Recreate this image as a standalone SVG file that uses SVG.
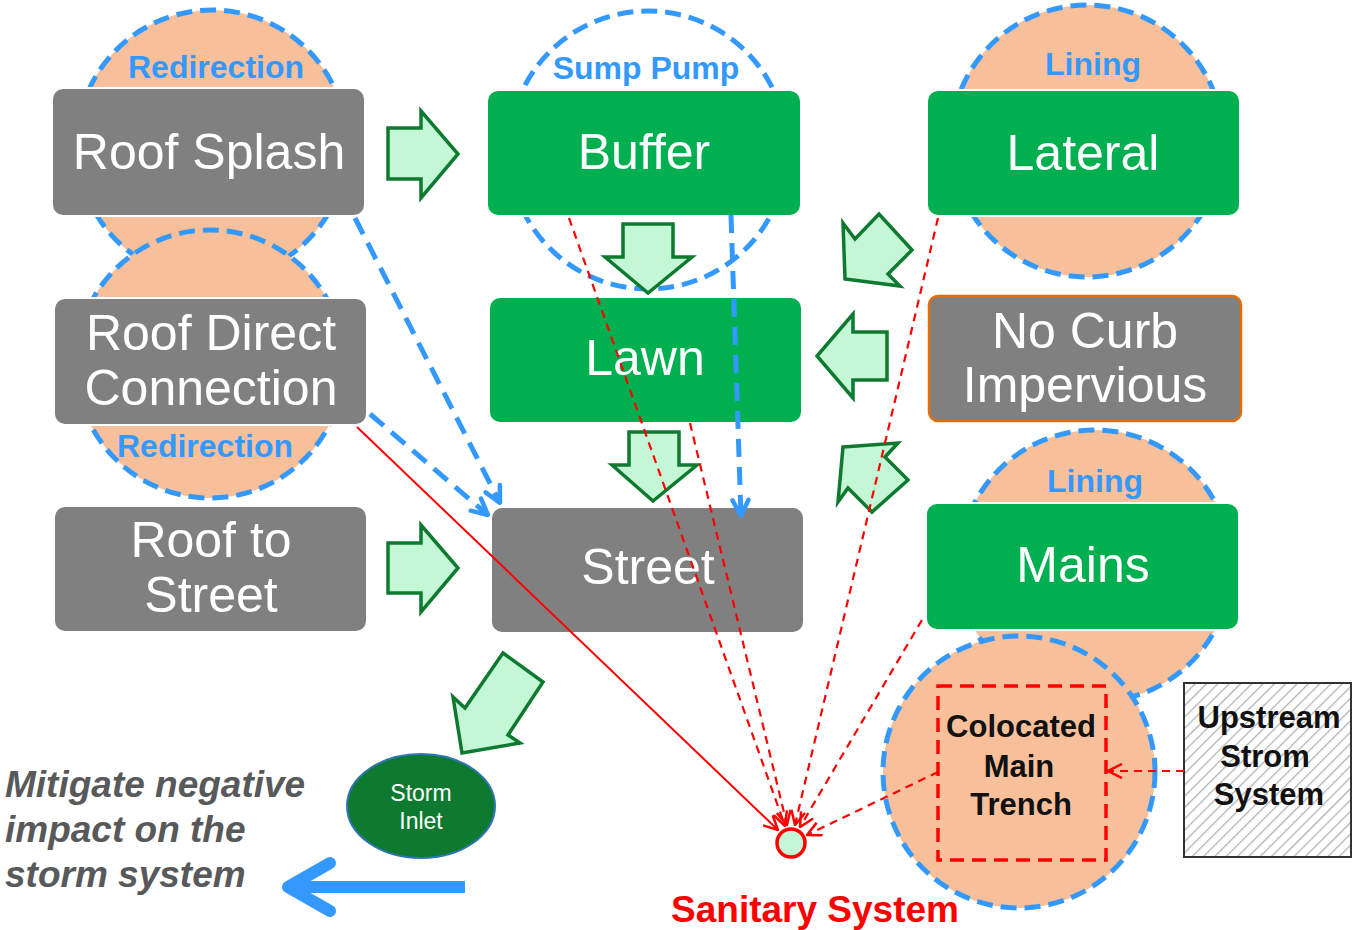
<svg xmlns="http://www.w3.org/2000/svg" width="1354" height="930" viewBox="0 0 1354 930">
<style>
.zone{fill:#f7c09b;stroke:#3399ff;stroke-width:5;stroke-dasharray:16 8}
.zone0{fill:none;stroke:#3399ff;stroke-width:5;stroke-dasharray:16 8}
.gray{fill:#808080;stroke:#ffffff;stroke-width:2}
.green{fill:#00b050;stroke:#ffffff;stroke-width:2}
.bt{font-family:"Liberation Sans",Arial,sans-serif;font-size:50px;fill:#ffffff;text-anchor:middle}
.lbl{font-family:"Liberation Sans",Arial,sans-serif;font-size:32px;font-weight:bold;fill:#3399ff;text-anchor:middle}
.blk{font-family:"Liberation Sans",Arial,sans-serif;font-size:31px;font-weight:bold;fill:#111111;text-anchor:middle}
.barrow{fill:#c4f7d5;stroke:#0e7a30;stroke-width:3.5;stroke-linejoin:miter}
.rd{fill:none;stroke:#ff0000;stroke-width:2.2;stroke-dasharray:8 6}
.bd{fill:none;stroke:#3399ff;stroke-width:5;stroke-dasharray:18 10}
</style>
<defs>
<pattern id="hatch" width="8" height="8" patternUnits="userSpaceOnUse" patternTransform="rotate(45)">
<rect width="8" height="8" fill="#ffffff"/>
<line x1="0" y1="0" x2="0" y2="8" stroke="#b0b0b0" stroke-width="2.5"/>
</pattern>
<marker id="rh" viewBox="0 0 16 16" refX="15" refY="8" markerWidth="16" markerHeight="16" markerUnits="userSpaceOnUse" orient="auto">
<path d="M1,1 L15,8 L1,15" fill="none" stroke="#ff0000" stroke-width="2.5"/>
</marker>
<marker id="bh" viewBox="0 0 22 22" refX="20" refY="11" markerWidth="22" markerHeight="22" markerUnits="userSpaceOnUse" orient="auto">
<path d="M4,3 L20,11 L4,19" fill="none" stroke="#3399ff" stroke-width="4.5" stroke-linecap="round" stroke-linejoin="round"/>
</marker>
</defs>

<g id="zones">
<circle class="zone" cx="212" cy="145" r="135"/>
<circle class="zone" cx="210" cy="364" r="134"/>
<circle class="zone0" cx="648" cy="150" r="139"/>
<circle class="zone" cx="1087" cy="141" r="136"/>
<circle class="zone" cx="1095" cy="566" r="136"/>
<circle class="zone" cx="1019" cy="772" r="136"/>
</g>

<g id="zone-labels">
<text class="lbl" x="216" y="78">Redirection</text>
<text class="lbl" x="646" y="79">Sump Pump</text>
<text class="lbl" x="1093" y="75">Lining</text>
<text class="lbl" x="1095" y="492">Lining</text>
<text class="lbl" x="205" y="457">Redirection</text>
</g>

<g id="roof-splash"><rect class="gray" x="52" y="88" width="313" height="128" rx="11"/><text class="bt" x="209" y="169">Roof Splash</text></g>
<g id="roof-direct"><rect class="gray" x="54" y="298" width="313" height="127" rx="11"/><text class="bt" x="211" y="350">Roof Direct</text><text class="bt" x="211" y="405">Connection</text></g>
<g id="roof-street"><rect class="gray" x="54" y="506" width="313" height="126" rx="11"/><text class="bt" x="211" y="557">Roof to</text><text class="bt" x="211" y="612">Street</text></g>
<g id="buffer"><rect class="green" x="487" y="90" width="314" height="126" rx="11"/><text class="bt" x="644" y="169">Buffer</text></g>
<g id="lawn"><rect class="green" x="489" y="297" width="313" height="126" rx="11"/><text class="bt" x="645" y="375">Lawn</text></g>
<g id="street"><rect class="gray" x="491" y="507" width="313" height="126" rx="11"/><text class="bt" x="648" y="584">Street</text></g>
<g id="lateral"><rect class="green" x="927" y="90" width="313" height="126" rx="11"/><text class="bt" x="1083" y="170">Lateral</text></g>
<g id="no-curb"><rect x="929" y="296" width="312" height="125" rx="9" fill="#808080" stroke="#e46c0a" stroke-width="2.5"/><text class="bt" x="1085" y="348">No Curb</text><text class="bt" x="1085" y="402">Impervious</text></g>
<g id="mains"><rect class="green" x="926" y="503" width="313" height="127" rx="11"/><text class="bt" x="1083" y="582">Mains</text></g>
<g id="colocated"><rect x="938" y="686" width="168" height="174" fill="none" stroke="#ff0000" stroke-width="3.5" stroke-dasharray="14 8"/><text class="blk" x="1021" y="737">Colocated</text><text class="blk" x="1019" y="777">Main</text><text class="blk" x="1021" y="815">Trench</text></g>
<g id="upstream"><rect x="1184" y="683" width="167" height="174" fill="url(#hatch)" stroke="#333333" stroke-width="2"/><text class="blk" x="1269" y="728">Upstream</text><text class="blk" x="1265" y="767">Strom</text><text class="blk" x="1269" y="805">System</text></g>
<g id="storm-inlet"><ellipse cx="421" cy="806" rx="74" ry="52" fill="#0e7a30" stroke="#2e75b6" stroke-width="2"/><text x="421" y="801" font-family="Liberation Sans, Arial, sans-serif" font-size="23" fill="#ffffff" text-anchor="middle">Storm</text><text x="421" y="829" font-family="Liberation Sans, Arial, sans-serif" font-size="23" fill="#ffffff" text-anchor="middle">Inlet</text></g>
<g id="sanitary"><circle cx="791" cy="843" r="14" fill="#c4f7d5" stroke="#ff0000" stroke-width="3.5"/><text x="815" y="922" font-family="Liberation Sans, Arial, sans-serif" font-size="37" font-weight="bold" fill="#ff0000" text-anchor="middle">Sanitary System</text></g>
<g id="mitigate"><text font-family="Liberation Sans, Arial, sans-serif" font-size="37" font-weight="bold" font-style="italic" fill="#58595b"><tspan x="5" y="797">Mitigate negative</tspan><tspan x="5" y="842">impact on the</tspan><tspan x="5" y="887">storm system</tspan></text></g>

<g id="connectors">
<polygon class="barrow" points="388,128 421,128 421,111 458,154 421,198 421,179 388,179"/>
<polygon class="barrow" points="388,543 421,543 421,525 458,568 421,612 421,593 388,593"/>
<polygon class="barrow" points="623,224 673,224 673,257 692,257 648,293 605,257 623,257"/>
<polygon class="barrow" points="629,432 679,432 679,465 697,465 653,501 612,465 629,465"/>
<polygon class="barrow" points="887,332 853,332 853,314 817,356 853,398 853,380 887,380"/>
<polygon class="barrow" points="843,223 855,239 879,214 912,250 888,274 900,286 845,279"/>
<polygon class="barrow" points="843,447 898,443 885,457 908,480 872,512 848,488 838,502"/>
<polygon class="barrow" points="503,653 543,682 508,735 520,743 462,753 453,697 465,708"/>
<line class="bd" x1="355" y1="218" x2="500" y2="503" marker-end="url(#bh)"/>
<line class="bd" x1="370" y1="414" x2="488" y2="515" marker-end="url(#bh)"/>
<line class="bd" x1="731" y1="215" x2="741" y2="516" marker-end="url(#bh)"/>
<line x1="357" y1="427" x2="778" y2="830" stroke="#ff0000" stroke-width="2" marker-end="url(#rh)"/>
<line class="rd" x1="569" y1="218" x2="785" y2="826" marker-end="url(#rh)"/>
<line class="rd" x1="690" y1="423" x2="787" y2="825" marker-end="url(#rh)"/>
<line class="rd" x1="938" y1="218" x2="795" y2="825" marker-end="url(#rh)"/>
<line class="rd" x1="922" y1="620" x2="800" y2="827" marker-end="url(#rh)"/>
<line class="rd" x1="938" y1="772" x2="807" y2="835" marker-end="url(#rh)"/>
<line class="rd" x1="1184" y1="771" x2="1108" y2="771" marker-end="url(#rh)"/>
<line x1="465" y1="887" x2="292" y2="887" stroke="#3399ff" stroke-width="12"/>
<polyline points="330,863 288,887 330,911" fill="none" stroke="#3399ff" stroke-width="12" stroke-linecap="round" stroke-linejoin="round"/>
</g>
</svg>
